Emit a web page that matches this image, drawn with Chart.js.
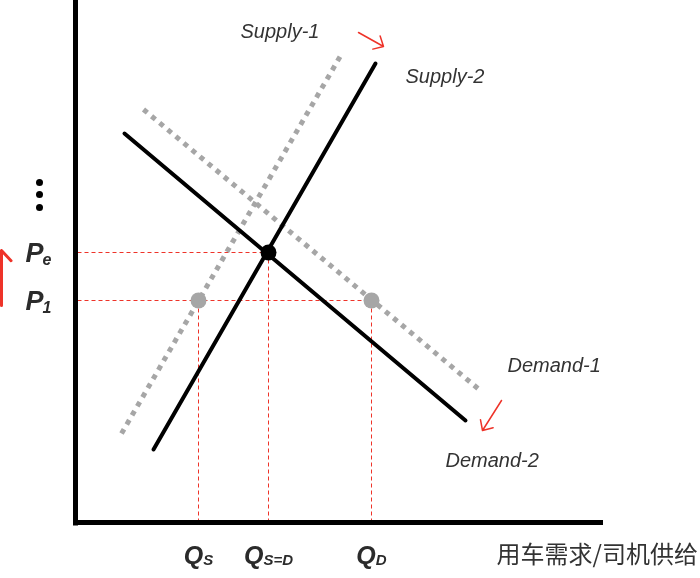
<!DOCTYPE html>
<html>
<head>
<meta charset="utf-8">
<script src="https://cdn.jsdelivr.net/npm/chart.js@4"></script>
<style>
  html, body { margin: 0; padding: 0; background: #fff; }
  #wrap { width: 700px; height: 578px; position: relative; }
</style>
</head>
<body>
<div id="wrap"><canvas id="chart"></canvas></div>
<script>
// schematic units: measured from the axis origin, x to the right, y upwards
const supply1 = [{x: 46, y: 89}, {x: 267, y: 470}];
const supply2 = [{x: 78, y: 73}, {x: 300, y: 459}];
const demand1 = [{x: 68, y: 413}, {x: 406, y: 131}];
const demand2 = [{x: 49, y: 389}, {x: 390, y: 102}];

const priceE = 270;   // P_e
const price1 = 222;   // P_1
const qS = 123;       // Q_S
const qSD = 193;      // Q_S=D
const qD = 296;       // Q_D

const equilibrium = [{x: qSD, y: priceE}];
const shortage = [{x: qS, y: price1}, {x: qD, y: price1}];
const ellipsis = [{x: -36, y: 340}, {x: -36, y: 328}, {x: -36, y: 315}];

const curveLabels = [
  {text: 'Supply-1', x: 165, y: 490},
  {text: 'Supply-2', x: 330, y: 445},
  {text: 'Demand-1', x: 432, y: 156},
  {text: 'Demand-2', x: 370, y: 61}
];
const priceLabels = [
  {main: 'P', sub: 'e', y: priceE},
  {main: 'P', sub: '1', y: price1}
];
const quantityLabels = [
  {main: 'Q', sub: 'S', x: qS},
  {main: 'Q', sub: 'S=D', x: qSD},
  {main: 'Q', sub: 'D', x: qD}
];
const axisTitle = '用车需求/司机供给';

// red shift arrows: [from, to]
const arrows = [
  {from: {x: 283, y: 490}, to: {x: 308, y: 476}, width: 1.5, head: 11},
  {from: {x: 426, y: 122}, to: {x: 407, y: 92}, width: 1.5, head: 11},
  {from: {x: -74, y: 217}, to: {x: -74, y: 272}, width: 3, head: 14}
];

const red = '#ee3329';

function guide(points) {
  return {
    type: 'line', data: points, showLine: true, order: 5,
    borderColor: red, borderWidth: 1, borderDash: [4, 3],
    pointRadius: 0
  };
}

function curve(points, dotted) {
  return {
    type: 'line', data: points, showLine: true, order: dotted ? 4 : 3,
    borderColor: dotted ? '#a6a6a6' : '#000',
    borderWidth: dotted ? 5 : 4,
    borderDash: dotted ? [5, 5.5] : [],
    borderCapStyle: dotted ? 'butt' : 'round',
    pointRadius: 0
  };
}

const labelPlugin = {
  id: 'labels',
  afterDatasetsDraw(chart) {
    const ctx = chart.ctx;
    const xs = chart.scales.x, ys = chart.scales.y;
    ctx.save();

    // arrows
    ctx.strokeStyle = red;
    ctx.lineCap = 'round';
    ctx.lineJoin = 'round';
    arrows.forEach(a => {
      const x1 = xs.getPixelForValue(a.from.x), y1 = ys.getPixelForValue(a.from.y);
      const x2 = xs.getPixelForValue(a.to.x), y2 = ys.getPixelForValue(a.to.y);
      const ang = Math.atan2(y2 - y1, x2 - x1);
      ctx.lineWidth = a.width;
      ctx.beginPath();
      ctx.moveTo(x1, y1);
      ctx.lineTo(x2, y2);
      ctx.moveTo(x2 - a.head * Math.cos(ang - 0.75), y2 - a.head * Math.sin(ang - 0.75));
      ctx.lineTo(x2, y2);
      ctx.lineTo(x2 - a.head * Math.cos(ang + 0.75), y2 - a.head * Math.sin(ang + 0.75));
      ctx.stroke();
    });

    // curve names
    ctx.fillStyle = '#333';
    ctx.font = 'italic 20px "Liberation Sans", Arial, sans-serif';
    ctx.textBaseline = 'middle';
    ctx.textAlign = 'left';
    curveLabels.forEach(l => {
      ctx.fillText(l.text, xs.getPixelForValue(l.x), ys.getPixelForValue(l.y));
    });

    // price labels on the left
    ctx.fillStyle = '#2b2b2b';
    priceLabels.forEach(l => {
      const y = ys.getPixelForValue(l.y) + 2;
      const x = xs.getPixelForValue(-50);
      ctx.textBaseline = 'middle';
      ctx.font = 'italic bold 27px "Liberation Sans", Arial, sans-serif';
      ctx.fillText(l.main, x, y);
      const w = ctx.measureText(l.main).width;
      ctx.textBaseline = 'alphabetic';
      ctx.font = 'italic bold 16px "Liberation Sans", Arial, sans-serif';
      ctx.fillText(l.sub, x + w - 1, y + 10);
    });

    // quantity labels under the axis
    quantityLabels.forEach(l => {
      const cx = xs.getPixelForValue(l.x);
      const base = ys.getPixelForValue(-41);
      ctx.textBaseline = 'alphabetic';
      ctx.font = 'italic bold 25px "Liberation Sans", Arial, sans-serif';
      const w1 = ctx.measureText(l.main).width;
      ctx.font = 'italic bold 15px "Liberation Sans", Arial, sans-serif';
      const w2 = ctx.measureText(l.sub).width;
      const start = cx - (w1 + w2) / 2;
      ctx.font = 'italic bold 25px "Liberation Sans", Arial, sans-serif';
      ctx.fillText(l.main, start, base);
      ctx.font = 'italic bold 15px "Liberation Sans", Arial, sans-serif';
      ctx.fillText(l.sub, start + w1, base + 1);
    });

    // axis title
    ctx.fillStyle = '#333';
    ctx.font = '24px "Noto Sans CJK SC", sans-serif';
    ctx.textBaseline = 'middle';
    ctx.fillText(axisTitle, xs.getPixelForValue(421), ys.getPixelForValue(-31));

    ctx.restore();
  }
};

new Chart(document.getElementById('chart'), {
  type: 'scatter',
  data: {
    datasets: [
      // axes
      {type: 'line', data: [{x: 0, y: -3}, {x: 0, y: 540}], showLine: true, order: 1,
        borderColor: '#000', borderWidth: 5, pointRadius: 0},
      {type: 'line', data: [{x: -2.5, y: 0}, {x: 527.5, y: 0}], showLine: true, order: 1,
        borderColor: '#000', borderWidth: 5, pointRadius: 0},
      // dashed guides
      guide([{x: 2, y: priceE}, {x: qSD, y: priceE}]),
      guide([{x: 2, y: price1}, {x: qD, y: price1}]),
      guide([{x: qS, y: 0}, {x: qS, y: price1}]),
      guide([{x: qSD, y: 0}, {x: qSD, y: priceE}]),
      guide([{x: qD, y: 0}, {x: qD, y: price1}]),
      // curves
      curve(supply1, true),
      curve(demand1, true),
      curve(supply2, false),
      curve(demand2, false),
      // points
      {data: shortage, order: 2, pointRadius: 8, pointBackgroundColor: '#a6a6a6',
        pointBorderWidth: 0, borderColor: '#a6a6a6'},
      {data: equilibrium, order: 0, pointRadius: 8, pointBackgroundColor: '#000',
        pointBorderWidth: 0, borderColor: '#000'},
      {data: ellipsis, order: 0, pointRadius: 3.5, pointBackgroundColor: '#000',
        pointBorderWidth: 0, borderColor: '#000'}
    ]
  },
  options: {
    responsive: true,
    maintainAspectRatio: false,
    animation: false,
    layout: {padding: 0, autoPadding: false},
    plugins: {legend: {display: false}, tooltip: {enabled: false}},
    scales: {
      // half-pixel offsets keep the 1px guides crisp
      x: {type: 'linear', display: false, min: -75.5, max: 624.5},
      y: {type: 'linear', display: false, min: -55.5, max: 522.5}
    }
  },
  plugins: [labelPlugin]
});
</script>
</body>
</html>
